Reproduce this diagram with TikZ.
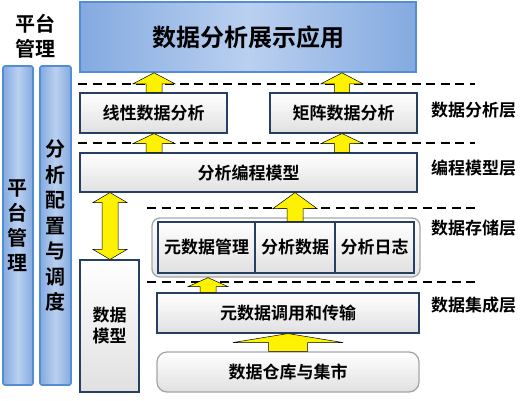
\documentclass[tikz,border=0pt]{standalone}
\usepackage{fontspec}
\newfontfamily\cjk{Noto Sans CJK SC}[BoldFont={Noto Sans CJK SC Bold}]
\usetikzlibrary{calc}

\definecolor{navyline}{RGB}{38,64,100}
\definecolor{blueedge}{RGB}{84,141,212}
\definecolor{bluedark}{RGB}{132,170,224}
\definecolor{bluelight}{RGB}{186,208,240}
\definecolor{greyedge}{RGB}{166,166,166}

% upward block arrow: lower node, upper node, x, half shaft, half head, head length
\newcommand{\blockup}[6]{%
  \draw[yarrow] let \p1=(#1.north), \p2=(#2.south) in
    (#3-#4,\y1) -- (#3-#4,\y2-#6) -- (#3-#5,\y2-#6) -- (#3,\y2)
    -- (#3+#5,\y2-#6) -- (#3+#4,\y2-#6) -- (#3+#4,\y1) -- cycle;}

\begin{document}
\begin{tikzpicture}[
    x=1pt, y=-1pt,
    font=\cjk\bfseries,
    box/.style={draw=navyline, line width=1.1pt, top color=white, bottom color=black!12,
        minimum width=#1, minimum height=40pt, inner sep=0pt,
        font=\cjk\bfseries\fontsize{17}{21}\selectfont, align=center},
    bluebar/.style={draw=blueedge, line width=1.6pt, rounded corners=2pt,
        left color=bluedark, right color=bluedark, middle color=bluelight, inner sep=0pt},
    yarrow/.style={fill=yellow, draw=black, line width=0.5pt},
    layer/.style={font=\cjk\bfseries\fontsize{17}{21}\selectfont},
    sep/.style={dashed, dash pattern=on 9pt off 5.5pt, line width=1.1pt}
]
\useasboundingbox (0,0) rectangle (528,400);

% Top application box
\node[bluebar, rounded corners=0pt, minimum width=336pt, minimum height=70pt,
    font=\cjk\bfseries\fontsize{24}{28}\selectfont] (app) at (248,37) {数据分析展示应用};

% Platform management
\node[font=\cjk\bfseries\fontsize{20}{25}\selectfont, align=center] (pmlabel) at (36,36) {平台\\管理};
\node[bluebar, minimum width=30pt, minimum height=319pt] (pmbar) at (18,225.5) {};
\node[font=\cjk\bfseries\fontsize{20}{25}\selectfont, align=center] at (pmbar) {平\\台\\管\\理};
\node[bluebar, minimum width=31pt, minimum height=319pt] (cfgbar) at (55.5,225.5) {};
\node[font=\cjk\bfseries\fontsize{20}{25.5}\selectfont, align=center] at (cfgbar) {分\\析\\配\\置\\与\\调\\度};

% Layer separators
\draw[sep] (78,84) -- (475,84);
\draw[sep] (78,143) -- (475,143);
\draw[sep] (147,208) -- (475,208);
\draw[sep] (147,282) -- (475,282);

% Analysis layer
\node[box=147pt] (linear) at (153.5,113) {线性数据分析};
\node[box=147pt] (matrix) at (343.5,113) {矩阵数据分析};

% Programming model layer
\node[box=337pt, minimum height=39pt] (prog) at (248.5,172.5) {分析编程模型};
\node[box=59pt, minimum height=132pt] (dmodel) at (109.5,326) {数据\\模型};

% Storage layer
\node[draw=greyedge, line width=1.3pt, rounded corners=8pt, top color=white, bottom color=black!10,
    minimum width=268pt, minimum height=59pt] (store) at (286,247.5) {};
\node[box=97pt, minimum height=51pt] (meta) at (206.5,247.5) {元数据管理};
\node[box=80pt, minimum height=51pt] (adata) at (295,247.5) {分析数据};
\node[box=79pt, minimum height=51pt] (alog) at (374.5,247.5) {分析日志};

% Integration layer
\node[box=262pt] (integ) at (288,313) {元数据调用和传输};
\node[box=262pt, draw=greyedge, line width=1.3pt, rounded corners=10pt] (dw) at (288,372) {数据仓库与集市};

% Layer names
\node[layer] (l1) at (473.5,110) {数据分析层};
\node[layer] (l2) at (473.5,168) {编程模型层};
\node[layer] (l3) at (473.5,228) {数据存储层};
\node[layer] (l4) at (473.5,305) {数据集成层};

% Yellow arrows
\blockup{linear}{app}{154pt}{8pt}{21pt}{11pt}
\blockup{matrix}{app}{342pt}{7.5pt}{21pt}{11pt}
\blockup{prog}{linear}{154pt}{8pt}{21pt}{10pt}
\blockup{prog}{matrix}{342pt}{7.5pt}{21pt}{10pt}
\blockup{meta}{prog}{295pt}{8pt}{22pt}{16pt}
\blockup{integ}{store}{208pt}{8pt}{20pt}{9pt}
\blockup{dw}{integ}{288pt}{19.5pt}{55pt}{9pt}

% Double arrow between models
\draw[yarrow] let \p1=(dmodel.north), \p2=(prog.south) in
    (110pt,\y2) -- (127pt,\y2-10pt) -- (118pt,\y2-10pt) -- (118pt,\y1+10pt) -- (127pt,\y1+10pt)
    -- (110pt,\y1) -- (93pt,\y1+10pt) -- (102pt,\y1+10pt) -- (102pt,\y2-10pt) -- (93pt,\y2-10pt) -- cycle;

\end{tikzpicture}
\end{document}
